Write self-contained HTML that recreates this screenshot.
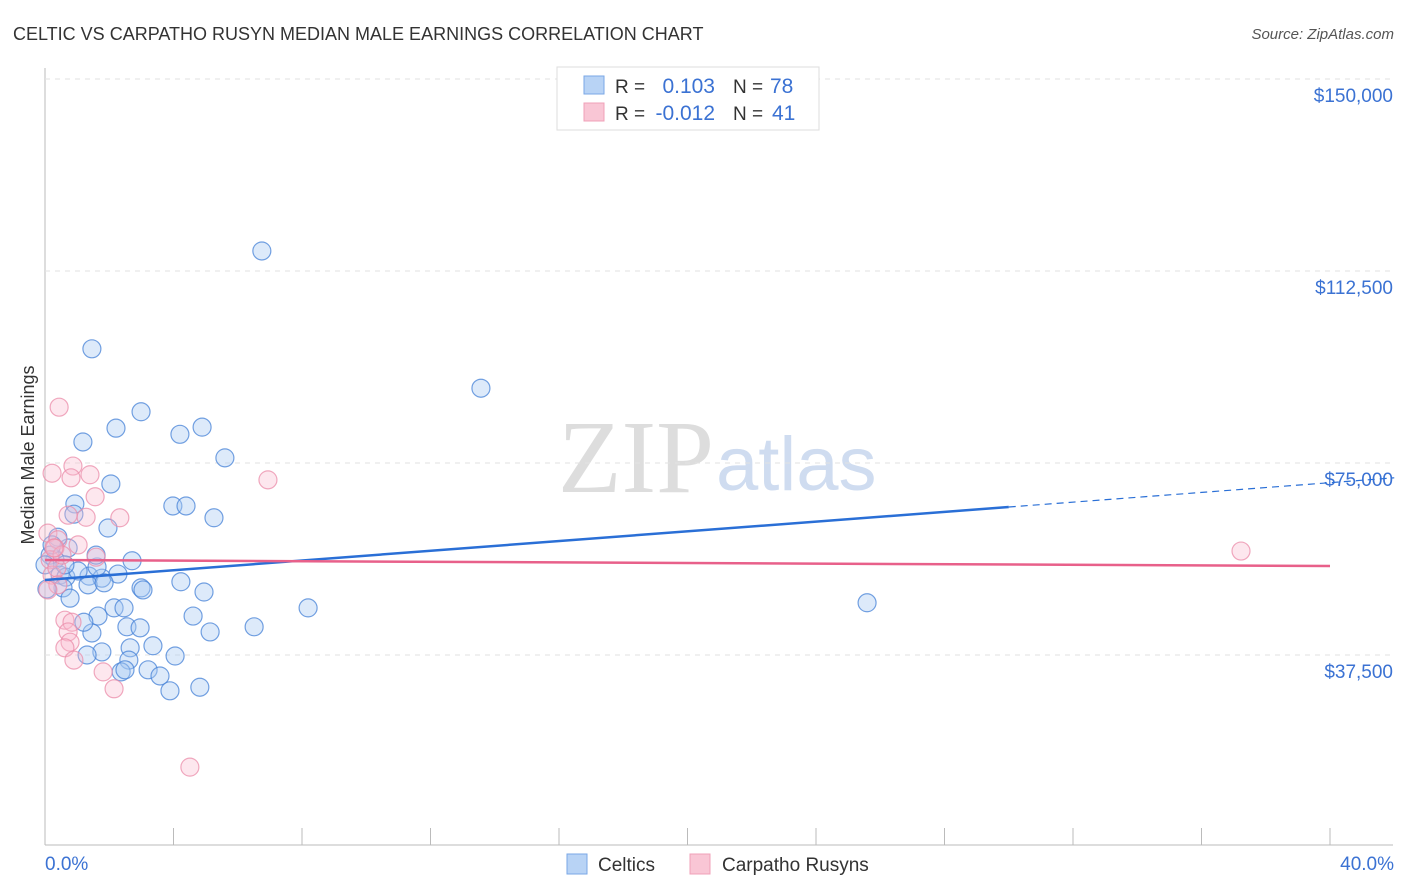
<!DOCTYPE html>
<html><head><meta charset="utf-8"><style>
body{margin:0;background:#fff;font-family:"Liberation Sans",sans-serif}
svg{display:block}
</style></head><body>
<svg id="c" width="1406" height="892" xmlns="http://www.w3.org/2000/svg">
<text x="13" y="40" font-size="18" fill="#333">CELTIC VS CARPATHO RUSYN MEDIAN MALE EARNINGS CORRELATION CHART</text>
<text x="1394" y="39" font-size="15" fill="#555" font-style="italic" text-anchor="end">Source: ZipAtlas.com</text>
<text x="34" y="455" font-size="18" fill="#333" text-anchor="middle" transform="rotate(-90 34 455)">Median Male Earnings</text>
<text x="714" y="492" font-size="104" fill="#ddd" text-anchor="end" font-family="Liberation Serif,serif">ZIP</text>
<text x="716" y="490" font-size="76" fill="#cfdcf0">atlas</text>
<g id="grid"></g><g id="pts"></g><g id="lines"></g>
<g>
<rect x="557" y="67" width="262" height="63" fill="#fff" stroke="#ddd"/>
<rect x="584" y="76" width="20" height="18" fill="#b8d3f5" stroke="#7aa7e6"/>
<rect x="584" y="103" width="20" height="18" fill="#f9c6d5" stroke="#f0a0b8"/>
<text x="615" y="93" font-size="19" fill="#333">R = </text><text x="715" y="93" font-size="21" fill="#3b72d3" text-anchor="end">0.103</text>
<text x="733" y="93" font-size="19" fill="#333">N = </text><text x="770" y="93" font-size="21" fill="#3b72d3">78</text>
<text x="615" y="120" font-size="19" fill="#333">R = </text><text x="715" y="120" font-size="21" fill="#3b72d3" text-anchor="end">-0.012</text>
<text x="733" y="120" font-size="19" fill="#333">N = </text><text x="772" y="120" font-size="21" fill="#3b72d3">41</text>
</g>
<text x="45" y="870" font-size="19" fill="#3b72d3">0.0%</text>
<text x="1394" y="870" font-size="19" fill="#3b72d3" text-anchor="end">40.0%</text>
<g>
<rect x="567" y="854" width="20" height="20" fill="#b8d3f5" stroke="#7aa7e6"/>
<text x="598" y="871" font-size="19" fill="#333">Celtics</text>
<rect x="690" y="854" width="20" height="20" fill="#f9c6d5" stroke="#f0a0b8"/>
<text x="722" y="871" font-size="19" fill="#333">Carpatho Rusyns</text>
</g>
</svg>
<script>
const yTicks=[37500,75000,112500,150000];
const yTickLabels=["$37,500","$75,000","$112,500","$150,000"];
const xTicks=[0,4,8,12,16,20,24,28,32,36,40];
const celticX=[6.75,1.46,13.57,2.99,2.21,4.20,4.89,1.18,5.60,2.05,0.93,3.98,4.39,5.26,0.90,1.96,2.71,0.72,0.31,0.16,0.47,0.65,1.37,1.77,2.27,1.62,1.34,1.84,2.99,3.05,4.23,0.56,0.78,4.95,8.19,25.59,2.15,2.46,1.65,4.61,2.55,2.96,5.14,6.51,1.46,3.36,2.65,1.77,1.31,4.05,2.61,2.37,2.49,3.21,3.58,3.89,4.82,1.21,0.40,0.06,0.22,0.0,1.03,1.59,0.62];
const celticY=[116.4,97.3,89.6,85.0,81.8,80.6,82.0,79.1,76.0,70.9,67.0,66.6,66.6,64.3,65.0,62.3,55.9,58.4,56.1,57.0,53.1,52.7,52.9,52.5,53.3,54.7,51.2,51.6,50.6,50.2,51.8,50.6,48.6,49.8,46.7,47.7,46.7,46.7,45.1,45.1,43.0,42.8,42.0,43.0,41.8,39.3,38.9,38.1,37.5,37.3,36.5,34.2,34.6,34.6,33.4,30.5,31.2,43.9,60.5,50.4,59.0,55.1,53.9,57.0,55.1];
const rusynX=[0.44,0.22,0.87,1.40,0.81,1.56,0.72,1.28,2.33,6.94,0.09,0.40,1.03,1.59,0.31,0.16,0.22,0.37,0.62,0.84,0.72,0.78,0.62,0.90,1.81,2.15,4.51,37.23,0.40,0.09,0.53,0.28];
const rusynY=[85.9,73.0,74.4,72.7,72.1,68.4,64.8,64.4,64.3,71.7,61.3,60.0,59.0,56.6,58.4,56.1,53.1,54.5,44.3,43.9,42.0,40.0,38.9,36.5,34.2,30.9,15.6,57.8,51.2,50.2,57.0,58.4];
const celticTrend=[52.15,66.4]; // at 0% and 30%
const rusynTrend=[56.05,54.88]; // at 0% and 40%
const NS="http://www.w3.org/2000/svg";
const xs=v=>45+v*32.125;
const ys=v=>847-v/195.3;
function mk(tag,attrs,parent){const e=document.createElementNS(NS,tag);for(const k in attrs)e.setAttribute(k,attrs[k]);parent.appendChild(e);return e;}
const grid=document.getElementById('grid');
mk('line',{x1:45,y1:68,x2:45,y2:845,stroke:'#bbb'},grid);
mk('line',{x1:45,y1:845,x2:1393,y2:845,stroke:'#bbb'},grid);
yTicks.forEach((t,i)=>{
 const g=mk('line',{x1:45,y1:ys(t),x2:1393,y2:ys(t),stroke:'#e2e2e2','stroke-dasharray':'5,5'},grid);
 
 
 const tx=mk('text',{x:1393,y:ys(t)+23,'font-size':19,fill:'#3b72d3','text-anchor':'end'},grid);
 tx.textContent=yTickLabels[i];
 
 
});
xTicks.forEach(t=>{
 const l=mk('line',{x1:xs(t),y1:828,x2:xs(t),y2:845,stroke:'#bbb'},grid);
 
 
});
const pts=document.getElementById('pts');
celticX.forEach((x,i)=>{
 const c=mk('circle',{cx:xs(x),cy:ys(celticY[i]*1000),r:9,fill:'rgba(170,203,243,0.4)',stroke:'rgba(70,130,215,0.75)','stroke-width':1.2},pts);
 
 
});
rusynX.forEach((x,i)=>{
 const c=mk('circle',{cx:xs(x),cy:ys(rusynY[i]*1000),r:9,fill:'rgba(248,185,205,0.35)',stroke:'rgba(235,140,170,0.75)','stroke-width':1.2},pts);
 
 
});
const lines=document.getElementById('lines');
const slope=(celticTrend[1]-celticTrend[0])/30;
const l1=mk('line',{x1:xs(0),y1:ys(celticTrend[0]*1000),x2:xs(30),y2:ys(celticTrend[1]*1000),stroke:'#2a6fd6','stroke-width':2.5},lines);


const l2=mk('line',{x1:xs(30),y1:ys(celticTrend[1]*1000),x2:xs(42),y2:ys((celticTrend[0]+slope*42)*1000),stroke:'#2a6fd6','stroke-width':1.2,'stroke-dasharray':'7,5'},lines);


const l3=mk('line',{x1:xs(0),y1:ys(rusynTrend[0]*1000),x2:xs(40),y2:ys(rusynTrend[1]*1000),stroke:'#e8608a','stroke-width':2.5},lines);


</script>
</body></html>
